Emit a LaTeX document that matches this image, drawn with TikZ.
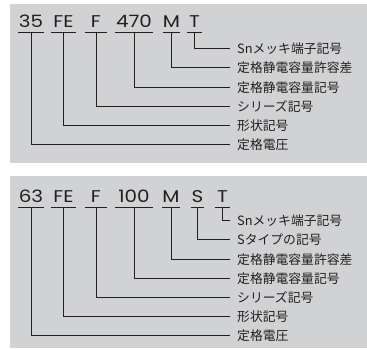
\documentclass[tikz,border=0pt]{standalone}
\usepackage{fontspec}
\usepackage{graphicx}
\setmainfont{Noto Sans CJK JP}
\newfontfamily\codefont{Poppins}
\definecolor{panelgray}{RGB}{209, 210, 212}
\definecolor{inkgray}{RGB}{35, 31, 32}
\usetikzlibrary{positioning}
\newcommand{\wide}[1]{\scalebox{1.17}[1]{#1}}

\begin{document}
\begin{tikzpicture}[x=1pt, y=-1pt,
    codetxt/.style={anchor=base, inner sep=0pt, text depth=5pt, text height=11pt,
      font=\codefont\fontsize{17}{18}\selectfont, text=inkgray},
    partname/.style={anchor=west, inner xsep=7pt, inner ysep=0pt, text height=11.5pt,
      text depth=1.5pt, font=\fontsize{12.8}{13}\selectfont, text=inkgray},
    uline/.style={draw=inkgray, line width=0.9pt},
    lead/.style={draw=inkgray, line width=0.8pt}]
  \useasboundingbox (0, 0) rectangle (367, 349);

  % Panels
  \fill[panelgray] (10, 4) rectangle (367, 163);
  \fill[panelgray] (10, 176) rectangle (367, 348);

  % Upper code: 35 FE F 470 M T
  \node[codetxt, minimum width=25pt] (aVolt) at (31, 27) {\wide{35}};
  \node[codetxt, minimum width=25pt] (aShape) at (63.5, 27) {\wide{FE}};
  \node[codetxt, minimum width=22pt] (aSeries) at (96, 27) {\wide{F}};
  \node[codetxt, minimum width=38pt] (aCap) at (134, 27) {\wide{470}};
  \node[codetxt, minimum width=17pt] (aTol) at (171.5, 27) {\wide{M}};
  \node[codetxt, minimum width=15pt] (aSn) at (194.5, 27) {\wide{T}};

  \node[partname] (aSnTxt) at (230, 48) {Snメッキ端子記号};
  \node[partname] (aTolTxt) at (230, 67.5) {定格静電容量許容差};
  \node[partname] (aCapTxt) at (230, 87) {定格静電容量記号};
  \node[partname] (aSeriesTxt) at (230, 106.5) {シリーズ記号};
  \node[partname] (aShapeTxt) at (230, 125.5) {形状記号};
  \node[partname] (aVoltTxt) at (230, 144.5) {定格電圧};

  \draw[uline] (aVolt.south west) -- (aVolt.south east);
  \draw[uline] (aShape.south west) -- (aShape.south east);
  \draw[uline] (aSeries.south west) -- (aSeries.south east);
  \draw[uline] (aCap.south west) -- (aCap.south east);
  \draw[uline] (aTol.south west) -- (aTol.south east);
  \draw[uline] (aSn.south west) -- (aSn.south east);

  \draw[lead] (aSn.south) |- (aSnTxt.west);
  \draw[lead] (aTol.south) |- (aTolTxt.west);
  \draw[lead] (aCap.south) |- (aCapTxt.west);
  \draw[lead] (aSeries.south) |- (aSeriesTxt.west);
  \draw[lead] (aShape.south) |- (aShapeTxt.west);
  \draw[lead] (aVolt.south) |- (aVoltTxt.west);

  % Lower code: 63 FE F 100 M S T
  \node[codetxt, minimum width=25pt] (bVolt) at (31, 202) {\wide{63}};
  \node[codetxt, minimum width=25pt] (bShape) at (63.5, 202) {\wide{FE}};
  \node[codetxt, minimum width=22pt] (bSeries) at (96, 202) {\wide{F}};
  \node[codetxt, minimum width=38pt] (bCap) at (134, 202) {\wide{100}};
  \node[codetxt, minimum width=17pt] (bTol) at (171, 202) {\wide{M}};
  \node[codetxt, minimum width=13pt] (bType) at (197.5, 202) {\wide{S}};
  \node[codetxt, minimum width=15pt] (bSn) at (222.5, 202) {\wide{T}};

  \node[partname] (bSnTxt) at (230, 220) {Snメッキ端子記号};
  \node[partname] (bTypeTxt) at (230, 239.5) {Sタイプの記号};
  \node[partname] (bTolTxt) at (230, 259) {定格静電容量許容差};
  \node[partname] (bCapTxt) at (230, 278) {定格静電容量記号};
  \node[partname] (bSeriesTxt) at (230, 297) {シリーズ記号};
  \node[partname] (bShapeTxt) at (230, 316.5) {形状記号};
  \node[partname] (bVoltTxt) at (230, 335) {定格電圧};

  \draw[uline] (bVolt.south west) -- (bVolt.south east);
  \draw[uline] (bShape.south west) -- (bShape.south east);
  \draw[uline] (bSeries.south west) -- (bSeries.south east);
  \draw[uline] (bCap.south west) -- (bCap.south east);
  \draw[uline] (bTol.south west) -- (bTol.south east);
  \draw[uline] (bType.south west) -- (bType.south east);
  \draw[uline] (bSn.south west) -- (bSn.south east);

  \draw[lead] (bSn.south) |- (bSnTxt.west);
  \draw[lead] (bType.south) |- (bTypeTxt.west);
  \draw[lead] (bTol.south) |- (bTolTxt.west);
  \draw[lead] (bCap.south) |- (bCapTxt.west);
  \draw[lead] (bSeries.south) |- (bSeriesTxt.west);
  \draw[lead] (bShape.south) |- (bShapeTxt.west);
  \draw[lead] (bVolt.south) |- (bVoltTxt.west);
\end{tikzpicture}
\end{document}
